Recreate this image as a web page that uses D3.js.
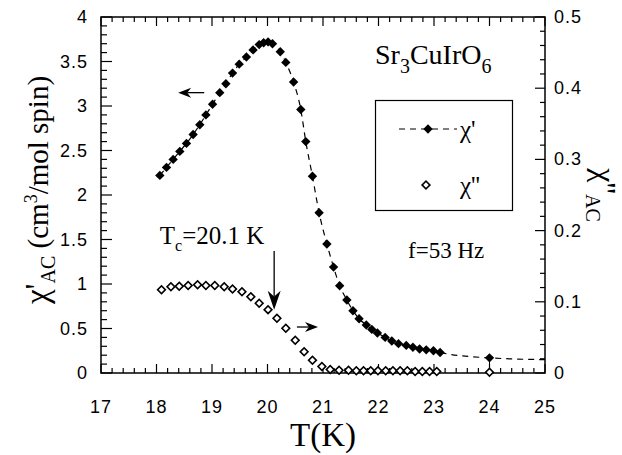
<!DOCTYPE html>
<html>
<head>
<meta charset="utf-8">
<script src="https://cdn.jsdelivr.net/npm/d3@7"></script>
<style>
  body { margin: 0; background: #fff; }
  svg { display: block; }
  .tick-label { font-family: "Liberation Sans", Arial, sans-serif; font-size: 18px; fill: #000; letter-spacing: 1px; }
  .serif { font-family: "Liberation Serif", "Times New Roman", serif; fill: #000; }
</style>
</head>
<body>
<div id="chart"></div>
<script>
// chi' (left axis, cm3/mol spin)
const realT = [18.06, 18.18, 18.30, 18.42, 18.54, 18.66, 18.78, 18.89, 19.01, 19.14,
  19.25, 19.37, 19.49, 19.62, 19.74, 19.85, 19.93, 20.01, 20.09, 20.23,
  20.33, 20.47, 20.60, 20.69, 20.81, 20.93, 21.07, 21.19, 21.30, 21.43,
  21.54, 21.65, 21.78, 21.88, 21.98, 22.12, 22.24, 22.36, 22.50, 22.62,
  22.74, 22.86, 22.99, 23.11, 24.00];
const realChi = [2.22, 2.31, 2.40, 2.49, 2.58, 2.68, 2.79, 2.90, 3.02, 3.15,
  3.25, 3.37, 3.47, 3.55, 3.63, 3.69, 3.71, 3.72, 3.70, 3.61,
  3.49, 3.27, 2.96, 2.60, 2.21, 1.80, 1.45, 1.19, 0.98, 0.82,
  0.70, 0.61, 0.54, 0.49, 0.45, 0.40, 0.36, 0.33, 0.31, 0.29,
  0.27, 0.26, 0.25, 0.23, 0.17];
// dashed guide continues past the last point
const tailT = [25];
const tailChi = [0.15];

// chi'' (right axis)
const imagT = [18.09, 18.26, 18.41, 18.57, 18.74, 18.89, 19.05, 19.22, 19.37, 19.54,
  19.70, 19.85, 20.01, 20.17, 20.33, 20.50, 20.66, 20.81, 20.98, 21.13,
  21.29, 21.46, 21.60, 21.73, 21.86, 21.99, 22.13, 22.26, 22.39, 22.52,
  22.66, 22.79, 22.92, 23.05, 24.00];
const imagChi = [0.117, 0.121, 0.122, 0.123, 0.124, 0.123, 0.123, 0.121, 0.118, 0.114,
  0.107, 0.098, 0.089, 0.077, 0.063, 0.046, 0.030, 0.018, 0.009, 0.005,
  0.004, 0.004, 0.003, 0.003, 0.003, 0.003, 0.003, 0.003, 0.003, 0.003,
  0.002, 0.002, 0.002, 0.002, 0.001];

const xTicks = [17, 18, 19, 20, 21, 22, 23, 24, 25];
const yLeftTicks = [0, 0.5, 1, 1.5, 2, 2.5, 3, 3.5, 4];
const yRightTicks = [0, 0.1, 0.2, 0.3, 0.4, 0.5];

const width = 622;
const height = 455;
const margin = { top: 17, right: 77, bottom: 82, left: 101 };
const innerW = width - margin.left - margin.right;
const innerH = height - margin.top - margin.bottom;

const svg = d3
  .select("#chart")
  .append("svg")
  .attr("width", width)
  .attr("height", height);

const g = svg.append("g").attr("transform", `translate(${margin.left},${margin.top})`);

const x = d3.scaleLinear().domain([17, 25]).range([0, innerW]);
const yL = d3.scaleLinear().domain([0, 4]).range([innerH, 0]);
const yR = d3.scaleLinear().domain([0, 0.5]).range([innerH, 0]);

//frame
g.append("rect")
  .attr("width", innerW)
  .attr("height", innerH)
  .attr("fill", "none")
  .attr("stroke", "#000")
  .attr("stroke-width", 1.5);

//inward ticks, major + minor
const tickLine = (x1, y1, x2, y2) =>
  g.append("line")
    .attr("x1", x1).attr("y1", y1).attr("x2", x2).attr("y2", y2)
    .attr("stroke", "#000").attr("stroke-width", 1.2);

d3.range(17, 25.001, 0.2).forEach((t) => {
  const major = Math.abs(t - Math.round(t)) < 1e-6;
  const len = major ? 9 : 5;
  tickLine(x(t), innerH, x(t), innerH - len);
  tickLine(x(t), 0, x(t), len);
});
d3.range(0, 4.001, 0.1).forEach((v) => {
  const major = Math.abs(v * 2 - Math.round(v * 2)) < 1e-6;
  tickLine(0, yL(v), major ? 11 : 6, yL(v));
});
d3.range(0, 0.5001, 0.02).forEach((v) => {
  const major = Math.abs(v * 10 - Math.round(v * 10)) < 1e-6;
  tickLine(innerW, yR(v), innerW - (major ? 10 : 5), yR(v));
});

//tick labels
g.selectAll(".xl")
  .data(xTicks)
  .enter()
  .append("text")
  .attr("class", "tick-label")
  .attr("x", (d) => x(d))
  .attr("y", innerH + 40)
  .attr("text-anchor", "middle")
  .text((d) => d);

g.selectAll(".yl")
  .data(yLeftTicks)
  .enter()
  .append("text")
  .attr("class", "tick-label")
  .attr("x", -13)
  .attr("y", (d) => yL(d) + 6)
  .attr("text-anchor", "end")
  .text((d) => d);

g.selectAll(".yr")
  .data(yRightTicks)
  .enter()
  .append("text")
  .attr("class", "tick-label")
  .attr("x", innerW + 9)
  .attr("y", (d) => yR(d) + 6)
  .attr("text-anchor", "start")
  .text((d) => d);

//axis titles
svg.append("text")
  .attr("class", "serif")
  .attr("x", margin.left + x(21))
  .attr("y", 446)
  .attr("text-anchor", "middle")
  .style("font-size", "33px")
  .text("T(K)");

const leftTitle = svg.append("text")
  .attr("class", "serif")
  .attr("transform", "translate(48,190) rotate(-90)")
  .attr("text-anchor", "middle")
  .style("font-size", "29px");
leftTitle.append("tspan").style("font-size", "33px").text("χ'");
leftTitle.append("tspan").attr("dy", 7).style("font-size", "20px").text("AC");
leftTitle.append("tspan").attr("dy", -7).text(" (cm");
leftTitle.append("tspan").attr("dy", -11).style("font-size", "18px").text("3");
leftTitle.append("tspan").attr("dy", 11).text("/mol spin)");

const rightTitle = svg.append("text")
  .attr("class", "serif")
  .attr("transform", "translate(594,195) rotate(90)")
  .attr("text-anchor", "middle")
  .style("font-size", "32px");
rightTitle.append("tspan").text("χ''");
rightTitle.append("tspan").attr("dy", 8).style("font-size", "20px").text("AC");

//dashed guide through chi'
const lineData = realT.map((t, i) => [t, realChi[i]])
  .concat(tailT.map((t, i) => [t, tailChi[i]]));
g.append("path")
  .datum(lineData)
  .attr("fill", "none")
  .attr("stroke", "#000")
  .attr("stroke-width", 1.2)
  .attr("stroke-dasharray", "6,5")
  .attr("d", d3.line().x((d) => x(d[0])).y((d) => yL(d[1])).curve(d3.curveMonotoneX));

// little bar joining the two 24 K points
g.append("line")
  .attr("x1", x(realT[realT.length - 1]))
  .attr("x2", x(imagT[imagT.length - 1]))
  .attr("y1", yL(realChi[realChi.length - 1]))
  .attr("y2", yR(imagChi[imagChi.length - 1]))
  .attr("stroke", "#000")
  .attr("stroke-width", 1);

const diamond = d3.symbol().type(d3.symbolSquare);

g.selectAll(".open")
  .data(imagT)
  .enter()
  .append("path")
  .attr("d", diamond.size(30)())
  .attr("transform", (d, i) => `translate(${x(d)},${yR(imagChi[i])}) rotate(45)`)
  .attr("fill", "#fff")
  .attr("stroke", "#000")
  .attr("stroke-width", 1.6);

g.selectAll(".filled")
  .data(realT)
  .enter()
  .append("path")
  .attr("d", diamond.size(44)())
  .attr("transform", (d, i) => `translate(${x(d)},${yL(realChi[i])}) rotate(45)`)
  .attr("fill", "#000");

//arrows
function arrow(x1, y1, x2, y2, len, half, sw) {
  const ang = Math.atan2(y2 - y1, x2 - x1);
  const ca = Math.cos(ang), sa = Math.sin(ang);
  const bx = x2 - len * ca, by = y2 - len * sa;
  const nx = bx + len * 0.3 * ca, ny = by + len * 0.3 * sa;
  g.append("line")
    .attr("x1", x1).attr("y1", y1).attr("x2", nx).attr("y2", ny)
    .attr("stroke", "#000").attr("stroke-width", sw);
  g.append("path")
    .attr("d", `M${x2},${y2}L${bx - half * sa},${by + half * ca}L${nx},${ny}L${bx + half * sa},${by - half * ca}Z`)
    .attr("fill", "#000");
}
arrow(x(18.86), yL(3.15), x(18.39), yL(3.15), 13, 5, 1.3);
arrow(x(20.12), yL(1.37), x(20.12), yL(0.71), 19, 6.5, 1.3);
arrow(x(20.53), yR(0.0646), x(20.91), yR(0.0646), 13, 5, 1.3);

//annotations
const tc = svg.append("text")
  .attr("class", "serif")
  .attr("x", margin.left + x(18.06))
  .attr("y", 244)
  .style("font-size", "25px");
tc.append("tspan").text("T");
tc.append("tspan").attr("dy", 7).style("font-size", "16px").text("c");
tc.append("tspan").attr("dy", -7).text("=20.1 K");

const formula = svg.append("text")
  .attr("class", "serif")
  .attr("x", 375)
  .attr("y", 64)
  .style("font-size", "28px");
formula.append("tspan").text("Sr");
formula.append("tspan").attr("dy", 9).style("font-size", "20px").text("3");
formula.append("tspan").attr("dy", -9).text("CuIrO");
formula.append("tspan").attr("dy", 9).style("font-size", "20px").text("6");

svg.append("text")
  .attr("class", "serif")
  .attr("x", 408)
  .attr("y", 258)
  .style("font-size", "23px")
  .text("f=53 Hz");

//legend
const legend = svg.append("g");
legend.append("rect")
  .attr("x", 375.5).attr("y", 100.5)
  .attr("width", 137).attr("height", 110)
  .attr("fill", "none").attr("stroke", "#000").attr("stroke-width", 1.2);
legend.append("line")
  .attr("x1", 399).attr("x2", 457).attr("y1", 129).attr("y2", 129)
  .attr("stroke", "#000").attr("stroke-width", 1.2).attr("stroke-dasharray", "6,5");
legend.append("path")
  .attr("d", diamond.size(44)())
  .attr("transform", "translate(428,129) rotate(45)")
  .attr("fill", "#000");
legend.append("path")
  .attr("d", diamond.size(30)())
  .attr("transform", "translate(426,185) rotate(45)")
  .attr("fill", "#fff").attr("stroke", "#000").attr("stroke-width", 1.6);
legend.append("text")
  .attr("class", "serif").attr("x", 460).attr("y", 138)
  .style("font-size", "25px").text("χ'");
legend.append("text")
  .attr("class", "serif").attr("x", 460).attr("y", 194)
  .style("font-size", "25px").text("χ''");
</script>
</body>
</html>
